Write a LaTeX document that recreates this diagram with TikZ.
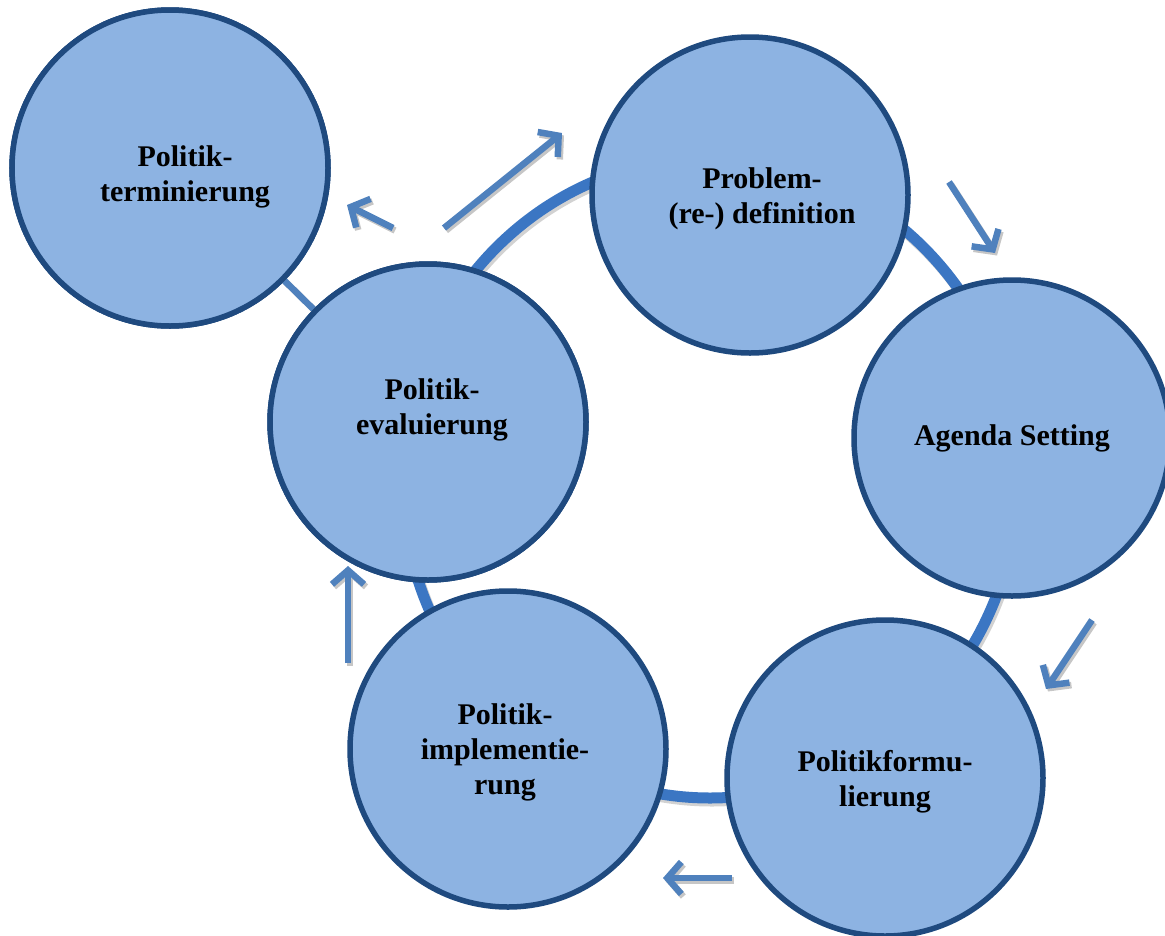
\documentclass[tikz,border=0pt]{standalone}
\usepackage{fontspec}
\setmainfont{Liberation Serif}
\usetikzlibrary{arrows.meta}
\definecolor{cfill}{HTML}{8DB3E2}
\definecolor{cborder}{HTML}{1F4A7F}
\definecolor{cring}{HTML}{3B76C3}
\definecolor{carrow}{HTML}{4F81BD}
\begin{document}
\begin{tikzpicture}[x=1pt,y=-1pt,
  phase/.style={circle,draw=cborder,line width=5.5pt,fill=cfill,minimum size=316pt,inner sep=0pt},
  label/.style={font=\fontsize{30}{35}\selectfont\bfseries,align=center,text=black},
  flow/.style={carrow,line width=6.5pt,-{Straight Barb[length=14pt,width=32pt]}},
  flowshadow/.style={gray!45,line width=6.5pt,-{Straight Barb[length=14pt,width=32pt]}},
  link/.style={carrow,line width=6.5pt}]
\useasboundingbox (0,0) rectangle (1165,935);
% ring
\draw[gray!35,line width=11pt] (712,481) ellipse [x radius=308pt, y radius=320pt];
\draw[cring,line width=11pt] (710,478) ellipse [x radius=308pt, y radius=320pt];
% circles
\node[phase] (term) at (170,168) {};
\node[phase] (eval) at (428,422) {};
\draw[gray!45,line width=6.5pt,shift={(2,2.5)}] (term) -- (eval);
\draw[link] (term) -- (eval);
\node[phase] (term) at (170,168) {};
\node[phase] (eval) at (428,422) {};
\node[phase] (prob) at (750,195) {};
\node[phase] (agen) at (1012,438) {};
\node[phase] (form) at (885,778) {};
\node[phase] (impl) at (508,749) {};
% texts
\node[label] (tterm) at (185,177) {Politik-\\terminierung};
\node[label] (tprob) at (762,199) {Problem-\\(re-) definition};
\node[label] (tagen) at (1012,438) {Agenda Setting};
\node[label] (tform) at (885,782) {Politikformu-\\lierung};
\node[label] (timpl) at (505,752) {Politik-\\implementie-\\rung};
\node[label] (teval) at (432,410) {Politik-\\evaluierung};
% arrow endpoints
\coordinate (a1s) at (444,228); \coordinate (a1e) at (562,133);
\coordinate (a2s) at (949,182); \coordinate (a2e) at (995,253);
\coordinate (a3s) at (1092,620); \coordinate (a3e) at (1046,689);
\coordinate (a4s) at (732,878); \coordinate (a4e) at (663,878);
\coordinate (a5s) at (348,663); \coordinate (a5e) at (348,566);
\coordinate (a6s) at (393,228); \coordinate (a6e) at (347,205);
\foreach \s/\e in {a1s/a1e,a2s/a2e,a3s/a3e,a4s/a4e,a5s/a5e,a6s/a6e}{
  \draw[flowshadow] ([shift={(2,2.5)}]\s) -- ([shift={(2,2.5)}]\e);
  \draw[flow] (\s) -- (\e);
}
\end{tikzpicture}
\end{document}
